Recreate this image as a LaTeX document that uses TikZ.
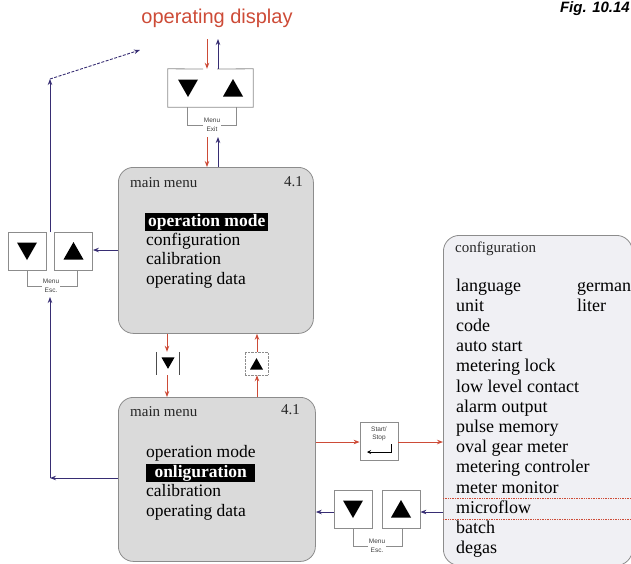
\documentclass[tikz,border=0pt]{standalone}
\usepackage{fontspec}
\setmainfont{Liberation Serif}
\newfontfamily\arialf{Liberation Sans}
\usetikzlibrary{arrows.meta}
\definecolor{rd}{RGB}{205,75,55}
\definecolor{bl}{RGB}{55,45,115}
\definecolor{boxgray}{RGB}{218,218,218}
\definecolor{cfgfill}{RGB}{240,240,244}
\definecolor{edge}{RGB}{140,140,140}
\newcommand\dtri[3]{\fill (#1-#3,#2-0.85*#3) -- (#1+#3,#2-0.85*#3) -- (#1,#2+0.9*#3) -- cycle;}
\newcommand\utri[3]{\fill (#1-#3,#2+0.85*#3) -- (#1+#3,#2+0.85*#3) -- (#1,#2-0.9*#3) -- cycle;}
\begin{document}
\begin{tikzpicture}[x=1pt,y=-1pt,
 redarr/.style={draw=rd, line width=0.9pt, -{Stealth[length=6pt,width=4.5pt]}},
 bluarr/.style={draw=bl, line width=0.9pt, -{Stealth[length=6pt,width=4.5pt]}},
 menubox/.style={draw=edge, fill=boxgray, rounded corners=15pt, line width=0.8pt},
 btnframe/.style={draw=edge, line width=0.8pt},
 btn/.style={btnframe, minimum width=38pt, minimum height=38pt, inner sep=0pt},
 item/.style={inner sep=0pt, text height=12pt, text depth=4pt, font=\fontsize{17.5}{20}\selectfont},
 citem/.style={inner sep=0pt, anchor=west, text height=12.5pt, text depth=4.3pt, font=\fontsize{18}{20}\selectfont},
 hdr/.style={inner sep=0pt, text height=10pt, text depth=3pt, font=\fontsize{15}{17}\selectfont, text=black!85},
 hl/.style={fill=black, text=white, inner sep=1pt, text height=12pt, text depth=4pt, font=\fontsize{17.5}{20}\selectfont\bfseries},
 tinylbl/.style={font=\arialf\fontsize{6.5}{8.5}\selectfont, align=center, fill=white, inner sep=0.5pt, text=black!75}
]
\useasboundingbox (0,0) rectangle (631,563);
\clip (0,0) rectangle (631,563);

% title
\node[font=\arialf\bfseries\itshape\fontsize{15}{15}\selectfont, anchor=base east, inner sep=0pt] (fig) at (630,12) {Fig. 10.14};
\node[font=\arialf\fontsize{20}{22}\selectfont, text=rd, inner sep=0pt] (od) at (217,18) {operating display};

% ---------- main menu 1
\node[menubox, minimum width=195pt, minimum height=166pt, anchor=north west] (m1) at (118,167) {};
\node[hdr, anchor=west] (m1h) at (130,184) {main menu};
\node[hdr, anchor=east] (m1n) at (303,183) {4.1};
\node[hl, minimum width=123pt, anchor=west] (m1a) at (145,222) {operation mode};
\node[item, anchor=west] (m1b) at (146,241) {configuration};
\node[item, anchor=west] (m1c) at (146,260) {calibration};
\node[item, anchor=west] (m1d) at (146,280) {operating data};

% ---------- main menu 2
\node[menubox, minimum width=197pt, minimum height=164pt, anchor=north west] (m2) at (118,397) {};
\node[hdr, anchor=west] (m2h) at (130,413) {main menu};
\node[hdr, anchor=east] (m2n) at (300,411) {4.1};
\node[item, anchor=west] (m2a) at (146,453) {operation mode};
\node[hl, minimum width=109pt, anchor=west] (m2b) at (146,473) {onliguration};
\node[item, anchor=west] (m2c) at (146,492) {calibration};
\node[item, anchor=west] (m2d) at (146,512) {operating data};

% ---------- configuration box
\node[draw=edge, fill=cfgfill, rounded corners=16pt, line width=0.8pt, minimum width=189pt, minimum height=330pt, anchor=north west] (cfg) at (443,235) {};
\node[hdr, anchor=west] (cfgh) at (455,249) {configuration};
\node[citem] (c1) at (456,287) {language};
\node[citem] (c1v) at (577,287) {german};
\node[citem] (c2) at (456,307.2) {unit};
\node[citem] (c2v) at (577,307.2) {liter};
\node[citem] (c3) at (456,327.4) {code};
\node[citem] (c4) at (456,347.6) {auto start};
\node[citem] (c5) at (456,367.8) {metering lock};
\node[citem] (c6) at (456,388) {low level contact};
\node[citem] (c7) at (456,408.2) {alarm output};
\node[citem] (c8) at (456,428.4) {pulse memory};
\node[citem] (c9) at (456,448.6) {oval gear meter};
\node[citem] (c10) at (456,468.8) {metering controler};
\node[citem] (c11) at (456,489) {meter monitor};
\node[citem] (c12) at (456,509.2) {microflow};
\node[citem] (c13) at (456,529.4) {batch};
\node[citem] (c14) at (456,549.6) {degas};
\draw[rd, densely dotted, line width=0.7pt] (cfg.west |- 0,498) -- (631,498);
\draw[rd, densely dotted, line width=0.7pt] (cfg.west |- 0,519) -- (631,519);

% ---------- top button pair (Menu/Exit)
\node[minimum width=85pt, minimum height=38pt, inner sep=0pt] (tp) at (210.5,88) {};
\draw[btnframe] (203,69) -- (tp.north west) -- (tp.south west) -- (tp.south east) -- (tp.north east) -- (217,69);
\dtri{188}{88}{10}
\utri{233}{88}{10}
\draw[btnframe] (187,107) -- (187,125) -- (236,125) -- (236,107);
\node[tinylbl] (tpl) at (212,125) {Menu\\Exit};

% ---------- left button pair (Menu/Esc.)
\node[btn] (lpL) at (27,251) {};
\node[btn] (lpR) at (73.5,251) {};
\dtri{27}{251}{10}
\utri{73.5}{251}{10}
\draw[btnframe] (27,270) -- (27,286) -- (77,286) -- (77,270);
\node[tinylbl] (lpl) at (51,286) {Menu\\Esc.};

% ---------- bottom button pair (Menu/Esc.)
\node[btn] (bpL) at (353,509) {};
\node[btn] (bpR) at (401,509) {};
\dtri{353}{509}{10}
\utri{401}{509}{10}
\draw[btnframe] (353,528) -- (353,546) -- (402,546) -- (402,528);
\node[tinylbl] (bpl) at (377,546) {Menu\\Esc.};

% ---------- small buttons between menus
\node[minimum width=23pt, minimum height=23pt, inner sep=0pt] (dn) at (168,363.5) {};
\draw[black!70, line width=0.9pt] (dn.north west) -- (dn.south west) (dn.north east) -- (dn.south east);
\dtri{168}{363}{6.5}
\node[draw=edge, densely dotted, minimum width=23pt, minimum height=23pt, inner sep=0pt] (up) at (256.5,363.5) {};
\utri{256.5}{364}{6.5}

% ---------- Start/Stop
\node[btn] (ss) at (379,441) {};
\node[font=\arialf\fontsize{6.5}{8.5}\selectfont, align=center, text=black!75, inner sep=0pt] (ssl) at (379,434) {Start/\\Stop};
\coordinate (ret1) at (391,444);
\coordinate (ret2) at (391,452);
\coordinate (ret3) at (367,452);
\draw[black, line width=1pt, -{Stealth[length=4pt,width=4pt]}] (ret1) -- (ret2) -- (ret3);

% ---------- red connectors
\coordinate (rxa) at (207,0);
\coordinate (rxb) at (167,0);
\coordinate (rxc) at (257,0);
\coordinate (bxa) at (218,0);
\draw[redarr] (rxa |- 0,39) -- (tp.north -| rxa);
\draw[bluarr] (tp.north -| bxa) -- (bxa |- 0,39);
\draw[redarr] (rxa |- 0,137) -- (m1.north -| rxa);
\draw[bluarr] (m1.north -| bxa) -- (bxa |- 0,137);
\draw[redarr] (m1.south -| rxb) -- (dn.north -| rxb);
\draw[redarr] (dn.south -| rxb) -- (m2.north -| rxb);
\draw[redarr] (m2.north -| rxc) -- (up.south -| rxc);
\draw[redarr] (up.north -| rxc) -- (m1.south -| rxc);
\coordinate (ry) at (0,442);
\draw[redarr] (m2.east |- ry) -- (ss.west |- ry);
\draw[redarr] (ss.east |- ry) -- (cfg.west |- ry);

% ---------- blue connectors
\coordinate (by) at (0,512);
\draw[bluarr] (cfg.west |- by) -- (bpR.east |- by);
\draw[bluarr] (bpL.west |- by) -- (m2.east |- by);
\coordinate (bya) at (0,250);
\draw[bluarr] (m1.west |- bya) -- (lpR.east |- bya);
\coordinate (vx) at (50,478);
\coordinate (vtop) at (50,79);
\coordinate (odin) at (140,50);
\draw[bluarr] (m2.west |- vx) -- (vx);
\draw[bluarr] (vx) -- (50,297);
\draw[bluarr] (50,232) -- (vtop);
\draw[bluarr, dashed, dash pattern=on 3pt off 1.5pt] (vtop) -- (odin);
\end{tikzpicture}
\end{document}
